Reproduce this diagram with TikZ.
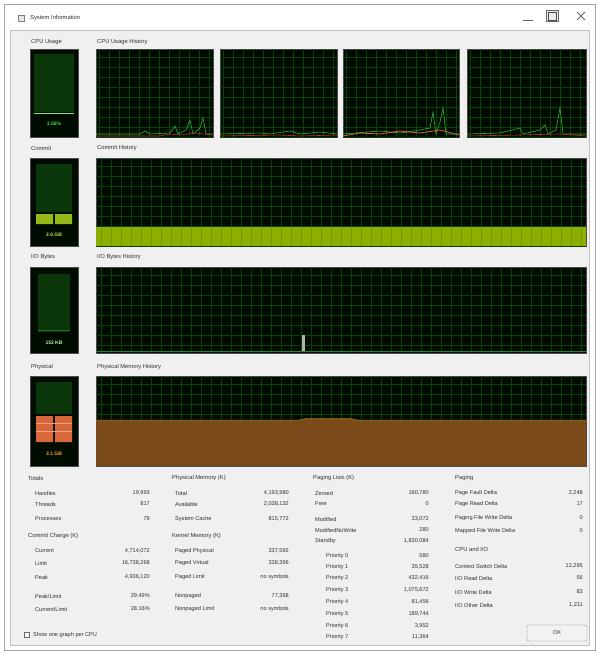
\documentclass[tikz,border=0pt]{standalone}
\usepackage{fontspec}
\setmainfont{Liberation Sans}
\definecolor{winbg}{HTML}{F0F0F0}
\definecolor{gbg}{HTML}{000C00}
\definecolor{gridc}{HTML}{0B400B}
\definecolor{dimg}{HTML}{0A360A}
\definecolor{brightg}{HTML}{3CE03C}
\definecolor{limec}{HTML}{8CB000}
\definecolor{limet}{HTML}{C8E040}
\definecolor{orangec}{HTML}{D8683A}
\definecolor{brownc}{HTML}{7B4A1B}
\definecolor{redc}{HTML}{C03020}
\definecolor{txt}{HTML}{303030}
\begin{document}
\begin{tikzpicture}[x=1pt,y=-1pt,
  every node/.style={inner sep=0pt},
  lbl/.style={anchor=west, font=\fontsize{5.6}{6.5}\selectfont, text=txt},
  val/.style={anchor=east, font=\fontsize{5.6}{6.5}\selectfont, text=txt},
  ttl/.style={anchor=west, font=\fontsize{5.8}{6.5}\selectfont, text=txt},
  graphbox/.style={fill=gbg, draw=black!70, line width=0.4pt},
  gridline/.style={draw=gridc, line width=0.35pt},
  mtext/.style={font=\fontsize{5}{6}\selectfont\bfseries}]
\useasboundingbox (0,0) rectangle (599,654);
% window
\fill[white] (0,0) rectangle (599,654);
\draw[black!35, fill=white] (4,4) rectangle (595,650);
\fill[winbg] (10,30) rectangle (589,645);
\draw[black!25] (10,30) rectangle (589,645);
% title bar
\node[draw=black!50, fill=black!10, minimum width=6pt, minimum height=6pt] (icon) at (21,18) {};
\node[ttl] (title) at (30,18) {System Information};
\draw[black!60, line width=0.8pt] (523,20) -- (533,20);
\node[draw=black!60, fill=black!8, minimum width=12pt, minimum height=11pt] (maxb) at (552,16) {};
\draw[black!70, line width=0.6pt] (548,12) rectangle (556,20);
\draw[black!60, line width=0.8pt] (577,12) -- (585,20) (585,12) -- (577,20);

% ---------- graph labels ----------
\node[ttl] (l1) at (31,42) {CPU Usage};
\node[ttl] (l1h) at (97,42) {CPU Usage History};
\node[ttl] (l2) at (31,148) {Commit};
\node[ttl] (l2h) at (97,148) {Commit History};
\node[ttl] (l3) at (31,257) {I/O Bytes};
\node[ttl] (l3h) at (97,257) {I/O Bytes History};
\node[ttl] (l4) at (31,367) {Physical};
\node[ttl] (l4h) at (97,367) {Physical Memory History};

% ---------- CPU row ----------
\draw[graphbox] (30,49) rectangle (78,137);
\fill[dimg] (34,54) rectangle (74,112);
\draw[brightg!70!white, line width=0.8pt] (34,113) -- (74,113);
\node[mtext, text=brightg] (cpuv) at (54,124) {1.56\%};
\foreach \xa/\xb in {96/213,220/337,343/459,467/586}{
  \draw[graphbox] (\xa,49) rectangle (\xb,137);
  \begin{scope}
  \clip (\xa,49) rectangle (\xb,137);
  \foreach \gx in {0,10,...,120} \draw[gridline] (\xa+\gx+3,49) -- (\xa+\gx+3,137);
  \foreach \gy in {57,67,...,137} \draw[gridline] (\xa,\gy) -- (\xb,\gy);
  \end{scope}
}
% CPU activity
\draw[brightg!80!black, line width=0.6pt] (96,134) -- (140,134) -- (145,131) -- (150,134) -- (170,133) -- (175,126) -- (178,134) -- (186,130) -- (190,120) -- (193,134) -- (200,128) -- (203,118) -- (206,134) -- (213,134);
\draw[redc, line width=0.6pt] (96,136) -- (160,136) -- (170,134) -- (180,135) -- (195,133) -- (213,135);
\draw[brightg!80!black, line width=0.6pt] (220,134) -- (260,133) -- (270,134) -- (290,131) -- (300,134) -- (320,132) -- (337,134);
\draw[redc, line width=0.6pt] (220,136) -- (280,135) -- (300,136) -- (337,135);
\draw[brightg!80!black, line width=0.6pt] (343,134) -- (380,131) -- (400,133) -- (420,130) -- (430,128) -- (433,112) -- (436,134) -- (440,122) -- (443,108) -- (446,134) -- (459,134);
\draw[orangec, line width=0.8pt] (343,136) -- (360,133) -- (380,134) -- (400,131) -- (420,133) -- (440,130) -- (459,135);
\draw[brightg!80!black, line width=0.6pt] (467,134) -- (500,133) -- (520,128) -- (523,134) -- (540,130) -- (545,125) -- (548,134) -- (556,130) -- (560,108) -- (563,134) -- (586,134);
\draw[redc, line width=0.6pt] (467,136) -- (520,135) -- (560,134) -- (586,136);

% ---------- Commit row ----------
\draw[graphbox] (30,158) rectangle (78,246);
\fill[dimg] (36,164) rectangle (72,212);
\fill[limec!90!white] (36,214) rectangle (53,224) (55,214) rectangle (72,224);
\node[mtext, text=limet] (comv) at (54,235) {2.6 GB};
\draw[graphbox] (96,158) rectangle (586,246);
\begin{scope}
\clip (96,158) rectangle (586,246);
\foreach \gx in {0,10,...,490} \draw[gridline] (96+\gx+5,158) -- (96+\gx+5,246);
\foreach \gy in {166,176,...,246} \draw[gridline] (96,\gy) -- (586,\gy);
\fill[limec] (96,227) rectangle (586,246);
\foreach \gx in {0,10,...,490} \draw[limec!85!black, line width=0.35pt] (96+\gx+5,227) -- (96+\gx+5,246);
\end{scope}

% ---------- I/O row ----------
\draw[graphbox] (30,267) rectangle (78,353);
\fill[dimg] (38,274) rectangle (70,332);
\draw[brightg!50!black, line width=0.5pt] (38,330) -- (70,330);
\node[mtext, text=brightg!40!white] (iov) at (54,343) {152 KB};
\draw[graphbox] (96,267) rectangle (586,353);
\begin{scope}
\clip (96,267) rectangle (586,353);
\foreach \gx in {0,10,...,490} \draw[gridline] (96+\gx+5,267) -- (96+\gx+5,353);
\foreach \gy in {275,285,...,353} \draw[gridline] (96,\gy) -- (586,\gy);
\draw[brightg!60!black, line width=0.5pt] (96,351) -- (586,351);
\fill[gray!60] (302,335) rectangle (305,351);
\end{scope}

% ---------- Physical row ----------
\draw[graphbox] (30,376) rectangle (78,466);
\fill[dimg] (36,382) rectangle (72,414);
\fill[orangec] (36,416) rectangle (53,442) (55,416) rectangle (72,442);
\foreach \yy in {423,431} \draw[orangec!60!white, line width=0.6pt] (36,\yy) -- (72,\yy);
\node[mtext, text=orange!70!yellow] (phv) at (54,454) {3.1 GB};
\draw[graphbox] (96,376) rectangle (586,466);
\begin{scope}
\clip (96,376) rectangle (586,466);
\foreach \gx in {0,10,...,490} \draw[gridline] (96+\gx+5,376) -- (96+\gx+5,466);
\foreach \gy in {384,394,...,466} \draw[gridline] (96,\gy) -- (586,\gy);
\fill[brownc] (96,420) -- (300,420) -- (306,418.5) -- (350,418.5) -- (358,420) -- (586,420) -- (586,466) -- (96,466) -- cycle;
\draw[brownc!70!yellow, line width=0.5pt] (96,420) -- (300,420) -- (306,418.5) -- (350,418.5) -- (358,420) -- (586,420);
\end{scope}

% ---------- Totals / Commit Charge ----------
\node[ttl] (h1) at (28,478) {Totals};
\node[lbl] (a1) at (35,493) {Handles};      \node[val] (b1) at (150,493) {19,993};
\node[lbl] (a2) at (35,504) {Threads};      \node[val] (b2) at (150,504) {817};
\node[lbl] (a3) at (35,519) {Processes};    \node[val] (b3) at (150,519) {79};
\node[ttl] (h2) at (28,536) {Commit Charge (K)};
\node[lbl] (a4) at (35,551) {Current};      \node[val] (b4) at (150,551) {4,714,072};
\node[lbl] (a5) at (35,563) {Limit};        \node[val] (b5) at (150,563) {16,738,268};
\node[lbl] (a6) at (35,577) {Peak};         \node[val] (b6) at (150,577) {4,936,120};
\node[lbl] (a7) at (35,596) {Peak/Limit};   \node[val] (b7) at (150,596) {29.49\%};
\node[lbl] (a8) at (35,609) {Current/Limit};\node[val] (b8) at (150,609) {28.16\%};

% ---------- Physical / Kernel Memory ----------
\node[ttl] (h3) at (172,478) {Physical Memory (K)};
\node[lbl] (c1) at (175,493) {Total};          \node[val] (d1) at (289,493) {4,193,980};
\node[lbl] (c2) at (175,504) {Available};      \node[val] (d2) at (289,504) {2,038,132};
\node[lbl] (c3) at (175,519) {System Cache};   \node[val] (d3) at (289,519) {815,772};
\node[ttl] (h4) at (172,536) {Kernel Memory (K)};
\node[lbl] (c4) at (175,551) {Paged Physical}; \node[val] (d4) at (289,551) {337,592};
\node[lbl] (c5) at (175,563) {Paged Virtual};  \node[val] (d5) at (289,563) {338,396};
\node[lbl] (c6) at (175,577) {Paged Limit};    \node[val] (d6) at (289,577) {no symbols};
\node[lbl] (c7) at (175,596) {Nonpaged};       \node[val] (d7) at (289,596) {77,368};
\node[lbl] (c8) at (175,609) {Nonpaged Limit}; \node[val] (d8) at (289,609) {no symbols};

% ---------- Paging Lists ----------
\node[ttl] (h5) at (313,478) {Paging Lists (K)};
\node[lbl] (e1) at (315,493) {Zeroed};          \node[val] (f1) at (429,493) {160,780};
\node[lbl] (e2) at (315,504) {Free};            \node[val] (f2) at (429,504) {0};
\node[lbl] (e3) at (315,519) {Modified};        \node[val] (f3) at (429,519) {33,072};
\node[lbl] (e4) at (315,530) {ModifiedNoWrite}; \node[val] (f4) at (429,530) {280};
\node[lbl] (e5) at (315,541) {Standby};         \node[val] (f5) at (429,541) {1,830,084};
\node[lbl] (p0) at (326,556) {Priority 0};      \node[val] (q0) at (429,556) {580};
\node[lbl] (p1) at (326,567) {Priority 1};      \node[val] (q1) at (429,567) {35,528};
\node[lbl] (p2) at (326,578) {Priority 2};      \node[val] (q2) at (429,578) {432,416};
\node[lbl] (p3) at (326,590) {Priority 3};      \node[val] (q3) at (429,590) {1,075,672};
\node[lbl] (p4) at (326,602) {Priority 4};      \node[val] (q4) at (429,602) {81,456};
\node[lbl] (p5) at (326,614) {Priority 5};      \node[val] (q5) at (429,614) {189,744};
\node[lbl] (p6) at (326,626) {Priority 6};      \node[val] (q6) at (429,626) {3,952};
\node[lbl] (p7) at (326,637) {Priority 7};      \node[val] (q7) at (429,637) {11,364};

% ---------- Paging / CPU and I/O ----------
\node[ttl] (h6) at (455,478) {Paging};
\node[lbl] (g1) at (455,493) {Page Fault Delta};        \node[val] (k1) at (583,493) {2,248};
\node[lbl] (g2) at (455,504) {Page Read Delta};         \node[val] (k2) at (583,504) {17};
\node[lbl] (g3) at (455,518) {Paging File Write Delta}; \node[val] (k3) at (583,518) {0};
\node[lbl] (g4) at (455,531) {Mapped File Write Delta}; \node[val] (k4) at (583,531) {0};
\node[ttl] (h7) at (455,549) {CPU and I/O};
\node[lbl] (g5) at (455,566) {Context Switch Delta};    \node[val] (k5) at (583,566) {12,295};
\node[lbl] (g6) at (455,578) {I/O Read Delta};          \node[val] (k6) at (583,578) {56};
\node[lbl] (g7) at (455,592) {I/O Write Delta};         \node[val] (k7) at (583,592) {83};
\node[lbl] (g8) at (455,605) {I/O Other Delta};         \node[val] (k8) at (583,605) {1,211};

% ---------- checkbox and button ----------
\node[draw=black!60, fill=white, minimum width=5pt, minimum height=5pt] (chk) at (27,635) {};
\node[lbl] (chkl) at (33,635) {Show one graph per CPU};
\node[draw=black!45, fill=black!5, rounded corners=1.5pt, minimum width=60pt, minimum height=16pt, font=\fontsize{5.6}{6.5}\selectfont, text=txt] (ok) at (557,633) {OK};
\end{tikzpicture}
\end{document}
